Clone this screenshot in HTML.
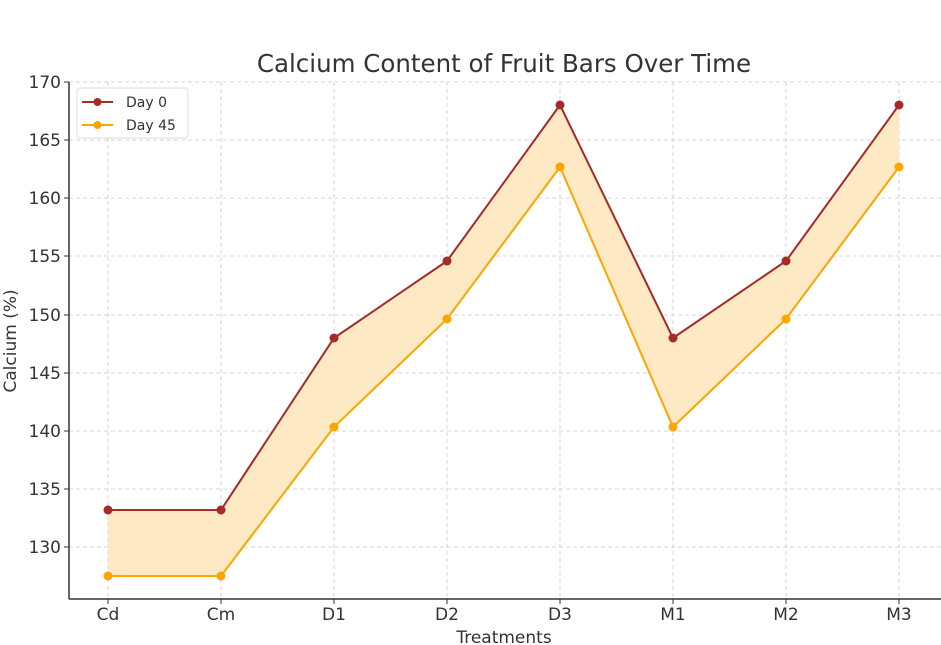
<!DOCTYPE html>
<html><head><style>body{margin:0;background:#fff}svg{display:block}text{font-family:"DejaVu Sans","Liberation Sans",sans-serif;fill:#333}</style></head>
<body>
<svg width="941" height="645" xmlns="http://www.w3.org/2000/svg">
<rect width="941" height="645" fill="#fff"/>
<text x="504" y="72" font-size="24.5" text-anchor="middle">Calcium Content of Fruit Bars Over Time</text>
<g stroke="#d4d4d4" stroke-dasharray="4,3" stroke-width="1">
<line x1="69" x2="941" y1="82" y2="82"/><line x1="69" x2="941" y1="140" y2="140"/><line x1="69" x2="941" y1="198" y2="198"/><line x1="69" x2="941" y1="256" y2="256"/><line x1="69" x2="941" y1="315" y2="315"/><line x1="69" x2="941" y1="373" y2="373"/><line x1="69" x2="941" y1="431" y2="431"/><line x1="69" x2="941" y1="489" y2="489"/><line x1="69" x2="941" y1="547" y2="547"/>
<line y1="82" y2="599" x1="108" x2="108"/><line y1="82" y2="599" x1="221" x2="221"/><line y1="82" y2="599" x1="334" x2="334"/><line y1="82" y2="599" x1="447" x2="447"/><line y1="82" y2="599" x1="560" x2="560"/><line y1="82" y2="599" x1="673" x2="673"/><line y1="82" y2="599" x1="786" x2="786"/><line y1="82" y2="599" x1="899" x2="899"/>
</g>
<polygon fill="#fde9c4" points="108,510 221,510 334,338 447,261 560,105 673,338 786,261 899,105 899,167 786,319 673,427 560,167 447,319 334,427 221,576 108,576"/>
<polyline fill="none" stroke="#ffa500" stroke-width="2" points="108,576 221,576 334,427 447,319 560,167 673,427 786,319 899,167"/>
<polyline fill="none" stroke="#a52a2a" stroke-width="2" points="108,510 221,510 334,338 447,261 560,105 673,338 786,261 899,105"/>
<g fill="#ffa500"><circle cx="108" cy="576" r="4.5"/><circle cx="221" cy="576" r="4.5"/><circle cx="334" cy="427" r="4.5"/><circle cx="447" cy="319" r="4.5"/><circle cx="560" cy="167" r="4.5"/><circle cx="673" cy="427" r="4.5"/><circle cx="786" cy="319" r="4.5"/><circle cx="899" cy="167" r="4.5"/></g>
<g fill="#a52a2a"><circle cx="108" cy="510" r="4.5"/><circle cx="221" cy="510" r="4.5"/><circle cx="334" cy="338" r="4.5"/><circle cx="447" cy="261" r="4.5"/><circle cx="560" cy="105" r="4.5"/><circle cx="673" cy="338" r="4.5"/><circle cx="786" cy="261" r="4.5"/><circle cx="899" cy="105" r="4.5"/></g>
<g stroke="#333" stroke-width="1.5"><line x1="69" y1="82" x2="69" y2="599"/><line x1="69" y1="599" x2="941" y2="599"/></g>
<g stroke="#333" stroke-width="1">
<line x1="64" x2="69" y1="82" y2="82"/><line x1="64" x2="69" y1="140" y2="140"/><line x1="64" x2="69" y1="198" y2="198"/><line x1="64" x2="69" y1="256" y2="256"/><line x1="64" x2="69" y1="315" y2="315"/><line x1="64" x2="69" y1="373" y2="373"/><line x1="64" x2="69" y1="431" y2="431"/><line x1="64" x2="69" y1="489" y2="489"/><line x1="64" x2="69" y1="547" y2="547"/>
<line y1="599" y2="604" x1="108" x2="108"/><line y1="599" y2="604" x1="221" x2="221"/><line y1="599" y2="604" x1="334" x2="334"/><line y1="599" y2="604" x1="447" x2="447"/><line y1="599" y2="604" x1="560" x2="560"/><line y1="599" y2="604" x1="673" x2="673"/><line y1="599" y2="604" x1="786" x2="786"/><line y1="599" y2="604" x1="899" x2="899"/>
</g>
<g font-size="17" text-anchor="end">
<text x="61" y="88">170</text><text x="61" y="146">165</text><text x="61" y="204">160</text><text x="61" y="262">155</text><text x="61" y="321">150</text><text x="61" y="379">145</text><text x="61" y="437">140</text><text x="61" y="495">135</text><text x="61" y="553">130</text>
</g>
<g font-size="17" text-anchor="middle">
<text x="108" y="620">Cd</text><text x="221" y="620">Cm</text><text x="334" y="620">D1</text><text x="447" y="620">D2</text><text x="560" y="620">D3</text><text x="673" y="620">M1</text><text x="786" y="620">M2</text><text x="899" y="620">M3</text>
</g>
<text x="504" y="643" font-size="17" text-anchor="middle">Treatments</text>
<text transform="translate(16,341) rotate(-90)" font-size="17" text-anchor="middle">Calcium (%)</text>
<rect x="77" y="88" width="111" height="50" rx="3" fill="#fff" fill-opacity="0.85" stroke="#ddd"/>
<line x1="82" x2="113" y1="102" y2="102" stroke="#a52a2a" stroke-width="2"/><circle cx="97.5" cy="102" r="4" fill="#a52a2a"/>
<line x1="82" x2="113" y1="125" y2="125" stroke="#ffa500" stroke-width="2"/><circle cx="97.5" cy="125" r="4" fill="#ffa500"/>
<text x="126" y="107" font-size="14">Day 0</text><text x="126" y="130" font-size="14">Day 45</text>
</svg>
</body></html>
